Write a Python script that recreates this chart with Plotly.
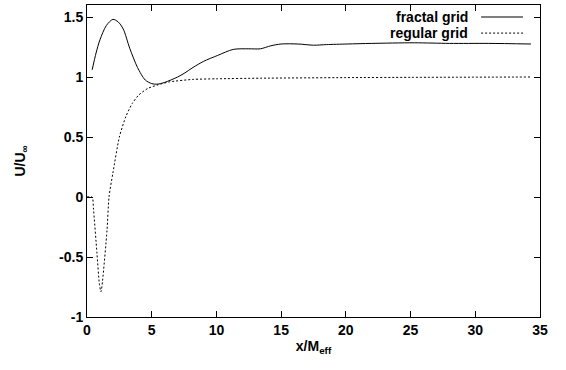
import plotly.graph_objects as go

# fractal grid
frac_x = [0.4, 0.7, 1.0, 1.5, 2.0, 2.4, 2.8, 3.3, 3.9, 4.5, 5.0, 5.4, 6.0, 7.0, 7.5, 8.2, 9.0,
          10.1, 11.3, 12.5, 13.4, 14.2, 15.0, 16.3, 17.5, 18.5, 20.1, 22.0, 25.3, 28.0, 31.0, 34.3]
frac_y = [1.06, 1.20, 1.31, 1.43, 1.48, 1.46, 1.40, 1.24, 1.08, 0.975, 0.945, 0.94, 0.955, 1.00, 1.03,
          1.08, 1.13, 1.18, 1.23, 1.235, 1.235, 1.26, 1.275, 1.275, 1.265, 1.27, 1.275, 1.28, 1.285,
          1.28, 1.28, 1.275]

# regular grid
reg_x = [0.0, 0.4, 0.5, 0.77, 0.95, 1.08, 1.2, 1.55, 1.7, 2.0, 2.5, 3.0, 3.5, 4.0, 4.7, 5.5, 6.4,
         8.2, 10.0, 13.4, 20.0, 25.0, 34.3]
reg_y = [0.0, 0.0, -0.1, -0.47, -0.72, -0.79, -0.7, -0.275, 0.0, 0.2, 0.5, 0.67, 0.78, 0.85, 0.905,
         0.935, 0.96, 0.98, 0.985, 0.99, 0.995, 0.997, 1.0]

names = ["fractal grid", "regular grid"]
x_ticks = [0, 5, 10, 15, 20, 25, 30, 35]
x_tick_text = ["0", "5", "10", "15", "20", "25", "30", "35"]
y_ticks = [-1, -0.5, 0, 0.5, 1, 1.5]
y_tick_text = ["-1", "-0.5", "0", "0.5", "1", "1.5"]

FONT = dict(family="Liberation Sans, Arial, sans-serif", size=14, color="black")

fig = go.Figure()
fig.add_trace(go.Scatter(x=frac_x, y=frac_y, mode="lines", name=names[0],
                         line=dict(color="black", width=1, shape="spline", smoothing=0.8)))
fig.add_trace(go.Scatter(x=reg_x, y=reg_y, mode="lines", name=names[1],
                         line=dict(color="black", width=1, dash="2px,2px", shape="spline", smoothing=0.6)))

axis_common = dict(showgrid=False, zeroline=False, showline=True, linecolor="black", linewidth=1,
                   mirror="ticks", ticks="inside", ticklen=6, tickcolor="black", tickwidth=1,
                   tickfont=FONT)
fig.update_xaxes(range=[0, 35], tickvals=x_ticks, ticktext=["<b>%s</b>" % t for t in x_tick_text],
                 title=dict(text="<b>x/M<sub>eff</sub></b>", font=FONT, standoff=4), **axis_common)
fig.update_yaxes(range=[-1, 1.6], tickvals=y_ticks, ticktext=["<b>%s</b>" % t for t in y_tick_text],
                 title=dict(text="<b>U/U<sub>∞</sub></b>", font=FONT, standoff=30), **axis_common)

# gnuplot-style key: right-aligned text with sample to the right
key_y = [0.9615, 0.910]
dashes = ["solid", "2px,2px"]
for name, ky, dsh in zip(names, key_y, dashes):
    fig.add_annotation(x=0.845, y=ky, xref="paper", yref="paper", text="<b>%s</b>" % name,
                       showarrow=False, xanchor="right", yanchor="middle", font=FONT)
    fig.add_shape(type="line", xref="paper", yref="paper", x0=0.870, x1=0.9625, y0=ky, y1=ky,
                  line=dict(color="black", width=1, dash=dsh))

fig.update_layout(width=566, height=370, margin=dict(l=87, r=26, t=5, b=53),
                  plot_bgcolor="white", paper_bgcolor="white", showlegend=False, font=FONT)
fig.write_html("out.html")
